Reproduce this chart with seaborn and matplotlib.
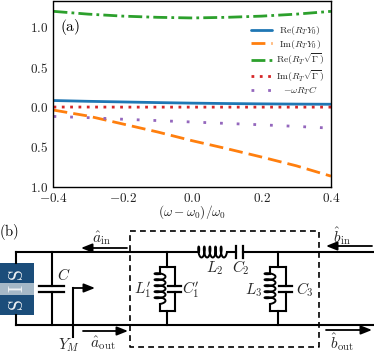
import numpy as np
import matplotlib
matplotlib.use("Agg")
import matplotlib.pyplot as plt
import seaborn as sns

# values
detuning = [-0.4, -0.3, -0.2, -0.1, 0.0, 0.1, 0.2, 0.3, 0.4]
re_y0 = [0.08, 0.07, 0.062, 0.054, 0.047, 0.042, 0.038, 0.035, 0.033]
im_y0 = [-0.04, -0.115, -0.215, -0.315, -0.425, -0.525, -0.63, -0.74, -0.87]
re_gamma = [1.20, 1.165, 1.14, 1.125, 1.117, 1.125, 1.14, 1.165, 1.20]
im_gamma = [-0.002, -0.002, -0.003, -0.003, -0.003, -0.003, -0.003, -0.003, -0.003]
omega_c = [-0.12, -0.135, -0.155, -0.172, -0.19, -0.208, -0.225, -0.245, -0.267]

x_ticks = [-0.4, -0.2, 0.0, 0.2, 0.4]
x_tick_labels = ["$-0.4$", "$-0.2$", "$0.0$", "$0.2$", "$0.4$"]
y_ticks = [-1.0, -0.5, 0.0, 0.5, 1.0]
y_tick_labels = ["$1.0$", "$0.5$", "$0.0$", "$0.5$", "$1.0$"]

sns.set_theme(style="white")
plt.rcParams["mathtext.fontset"] = "cm"
plt.rcParams["font.family"] = ["DejaVu Serif"]

W, H = 374, 354
fig = plt.figure(figsize=(W / 100, H / 100), dpi=100)
ax = fig.add_axes([53.5 / W, 1 - 186.5 / H, 277.5 / W, 185.5 / H])

sns.lineplot(x=detuning, y=re_y0, ax=ax, color="#1f77b4", lw=2, label=r"$\mathrm{Re}(R_T Y_0)$")
sns.lineplot(x=detuning, y=im_y0, ax=ax, color="#ff7f0e", lw=2, linestyle=(0, (5, 2.2)), label=r"$\mathrm{Im}(R_T Y_0)$")
sns.lineplot(x=detuning, y=re_gamma, ax=ax, color="#2ca02c", lw=2, linestyle=(0, (5, 1.5, 1, 1.5)), label=r"$\mathrm{Re}(R_T\sqrt{\Gamma})$")
sns.lineplot(x=detuning, y=im_gamma, ax=ax, color="#d62728", lw=2, linestyle=(0, (1, 2)), label=r"$\mathrm{Im}(R_T\sqrt{\Gamma})$")
sns.lineplot(x=detuning, y=omega_c, ax=ax, color="#9467bd", lw=2, linestyle=(0, (1, 5)), label=r"$-\omega R_T C$")

ax.set_xlim(-0.4, 0.4)
ax.set_ylim(-1.0, 1.33)
ax.set_xticks(x_ticks)
ax.set_xticklabels(x_tick_labels, fontsize=9.5)
ax.set_yticks(y_ticks)
ax.set_yticklabels(y_tick_labels, fontsize=9.5)
ax.tick_params(direction="in", length=2.5, width=0.8, pad=4, color="black", labelcolor="#222222")
ax.set_xlabel(r"$(\omega-\omega_0)/\omega_0$", fontsize=9.5, labelpad=-1)
ax.text(0.022, 0.838, r"$\mathrm{(a)}$", transform=ax.transAxes, fontsize=11, color="black")
for s in ax.spines.values():
    s.set_color("black")
    s.set_linewidth(1.0)

leg = ax.legend(loc="upper right", bbox_to_anchor=(0.975, 0.876), frameon=False, fontsize=7,
                labelspacing=0.08, handlelength=2.2, handletextpad=0.4, borderaxespad=0.0, borderpad=0)

# centre the legend texts on each other like the original
fig.canvas.draw()
rend = fig.canvas.get_renderer()
widths = [t.get_window_extent(rend).width for t in leg.get_texts()]
for t, w_t in zip(leg.get_texts(), widths):
    t.set_position(((max(widths) - w_t) / 2, 0))

# panel (b), schematic drawn in pixel coordinates of the figure
cx = fig.add_axes([0, 0, 1, 1])
cx.set_xlim(0, W)
cx.set_ylim(H, 0)
cx.axis("off")
cx.patch.set_alpha(0)


def wire(xs, ys, lw=1.5, **kw):
    cx.plot(xs, ys, color="black", lw=lw, solid_capstyle="projecting", **kw)


def arrow(x0, y0, x1, y1):
    cx.annotate("", xy=(x1, y1), xytext=(x0, y0),
                arrowprops=dict(arrowstyle="-|>,head_width=0.22,head_length=0.55", color="black",
                                lw=1.3, shrinkA=0, shrinkB=0))


def label(x, y, s, size=11):
    cx.text(x, y, s, ha="center", va="center", fontsize=size)


def coil(x0, y0, length, r, vertical=False):
    # five loops around the wire axis, starting and ending on it
    t = np.linspace(0, 1, 300)
    th = 2 * np.pi * 5 * t - np.pi / 2
    a = length * t - 0.06 * length * (np.sin(th) + 1)
    b = r * np.cos(th)
    if vertical:
        cx.plot(x0 - b, y0 + a, color="black", lw=1.4)
    else:
        cx.plot(x0 + a, y0 - b, color="black", lw=1.4)


def cap_v(x, y0, half):
    wire([x - half, x + half], [y0 - 3, y0 - 3], lw=1.6)
    wire([x - half, x + half], [y0 + 3, y0 + 3], lw=1.6)


def tank(xm, xl, xr, capx, half):
    top, bot = 267, 311
    wire([xm, xm], [252, top])
    wire([xm, xm], [bot, 325])
    wire([xl, xr], [top, top])
    wire([xl, xr], [bot, bot])
    wire([xl, xl], [top, 274])
    wire([xl, xl], [304, bot])
    coil(xl, 274, 30, 5.5, vertical=True)
    wire([xr, xr], [top, 286])
    wire([xr, xr], [292, bot])
    cap_v(capx, 289, half)


# SIS junction
cx.fill_between([0, 34], 263, 315, color="#1b4d7a", lw=0)
cx.fill_between([0, 34], 283, 295, color="#a5b8c7", lw=0)
for y_s, letter in [(275, "S"), (289, "I"), (305, "S")]:
    cx.text(18, y_s, rf"$\mathrm{{{letter}}}$", rotation=90, color="#eef2f5", ha="center", va="center", fontsize=14)

# main lines
wire([16, 16], [252, 263])
wire([16, 16], [315, 325])
wire([16, 199], [252, 252])
wire([227, 236], [252, 252])
wire([243, 374], [252, 252])
wire([16, 374], [325, 325])

# C
wire([52, 52], [252, 286])
wire([52, 52], [292, 325])
cap_v(52, 289, 12.5)
label(64, 275, "$C$")

# Y_M
wire([73, 73], [337, 288])
arrow(73, 288, 95, 288)
label(69, 345, "$Y_M$")

# dashed filter box
cx.plot([130, 319, 319, 130, 130], [231, 231, 347, 347, 231], color="black", lw=1.2, linestyle=(0, (3.5, 2.5)))

tank(167, 160, 175, 175, 6.5)
label(143, 290, "$L_1'$")
label(191, 290, "$C_1'$")
tank(278, 270, 286, 286, 6.5)
label(254, 290, "$L_3$")
label(305, 290, "$C_3$")

coil(199, 252, 28, 5.5)
wire([236, 236], [246, 258], lw=1.6)
wire([243, 243], [246, 258], lw=1.6)
label(215, 268, "$L_2$")
label(241, 268, "$C_2$")

# travelling waves
arrow(127, 248, 81, 248)
label(102, 238, r"$\hat{a}_{\mathrm{in}}$")
arrow(83, 331, 128, 331)
label(103, 343, r"$\hat{a}_{\mathrm{out}}$")
arrow(372, 246, 326, 246)
label(342, 236, r"$\hat{b}_{\mathrm{in}}$")
arrow(326, 330, 372, 330)
label(342, 342, r"$\hat{b}_{\mathrm{out}}$")
cx.text(9.5, 232, r"$\mathrm{(b)}$", ha="center", va="center", fontsize=10.5, color="black")

fig.savefig("out.png", dpi=100)
